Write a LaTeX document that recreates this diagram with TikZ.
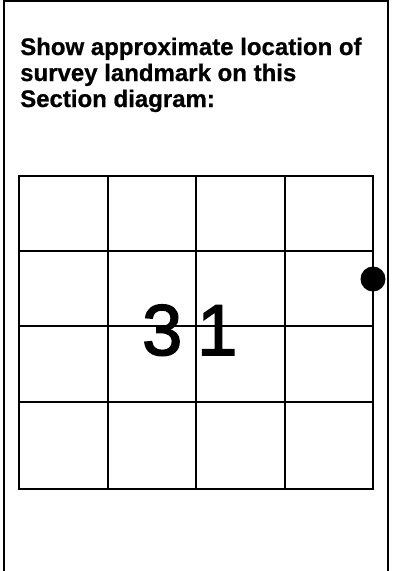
\documentclass[tikz,border=0pt]{standalone}
\usepackage{fontspec}
\setmainfont{Liberation Sans}
\newfontfamily\headfont[FakeBold=0.8]{Liberation Sans}
\newfontfamily\numfont[FakeBold=2.2]{Liberation Sans}
\begin{document}
\begin{tikzpicture}[x=1pt,y=-1pt,
  frameline/.style={line width=1.8pt,black},
  gridline/.style={line width=2pt,black},
  heading/.style={anchor=base west,inner sep=0pt,font=\fontsize{24}{26}\headfont\bfseries},
  secnum/.style={anchor=base west,inner sep=0pt,font=\fontsize{72}{72}\numfont},
  landmark/.style={circle,fill=black,inner sep=0pt,minimum size=25pt}]
\useasboundingbox (0,0) rectangle (394,571);
% outer frame (open at bottom)
\draw[frameline] (4,571) -- (4,1) -- (388,1) -- (388,571);
% heading
\node[heading] (h1) at (20,55) {Show approximate location of};
\node[heading] (h2) at (20,81) {survey landmark on this};
\node[heading] (h3) at (20,107) {Section diagram:};
% section grid
\draw[gridline] (19,176) rectangle (373,489);
\foreach \x in {107.5,196,284.5} \draw[gridline] (\x,176) -- (\x,489);
\foreach \y in {250.5,326,402} \draw[gridline] (19,\y) -- (373,\y);
% section number
\node[secnum] (num) at (142,355) {3\kern15pt 1};
% landmark dot
\node[landmark] (mark) at (373,279) {};
\end{tikzpicture}
\end{document}
